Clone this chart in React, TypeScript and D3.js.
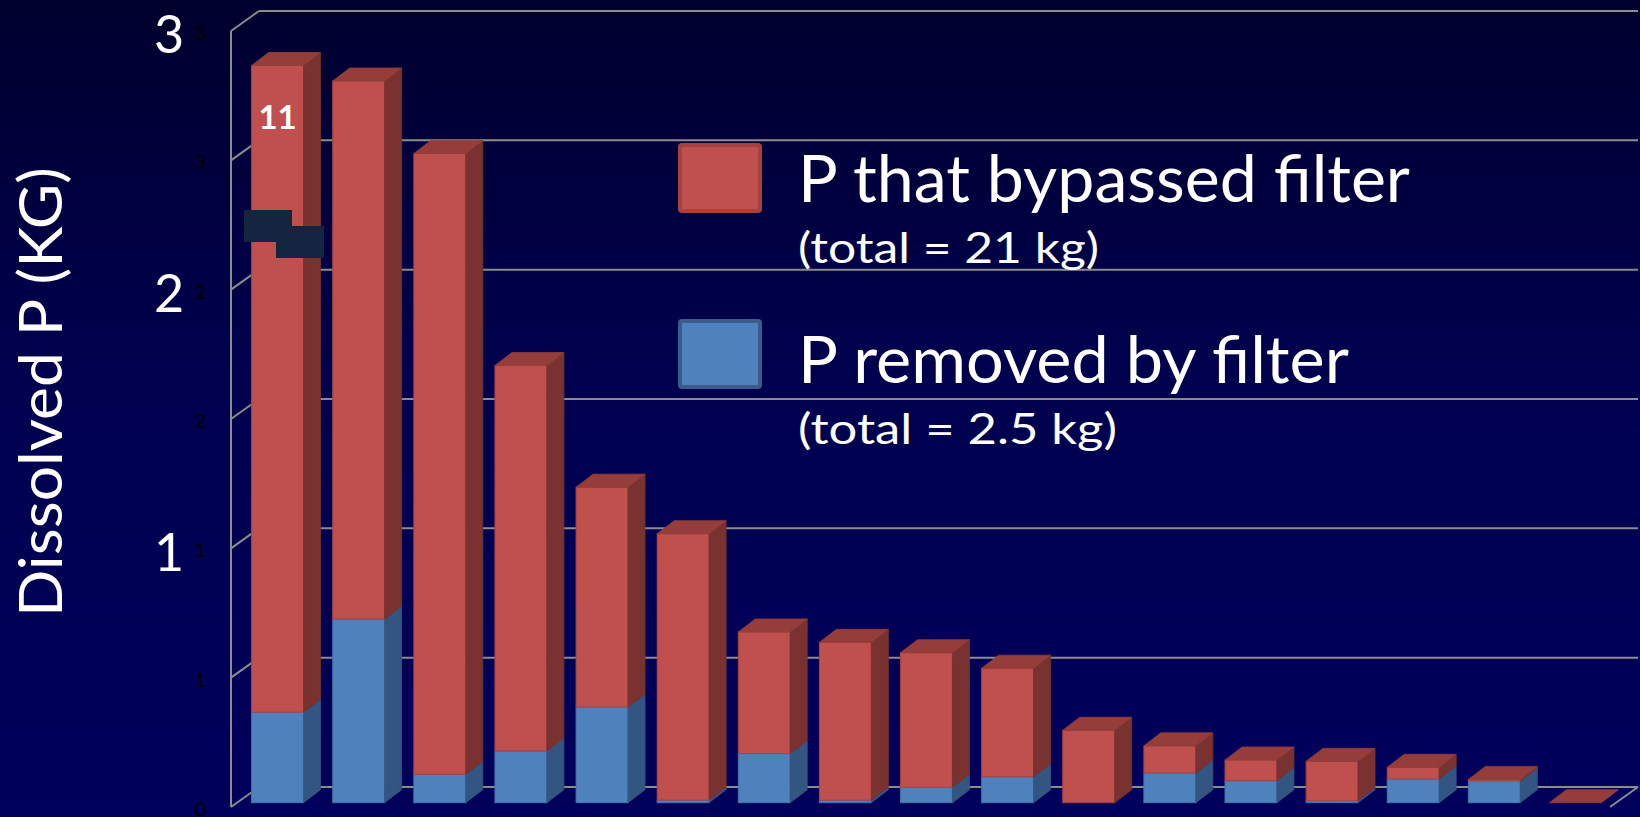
import React from "react";
import * as d3 from "d3";

// sites, sorted by total dissolved P
const categories = ["1", "2", "3", "4", "5", "6", "7", "8", "9", "10", "11", "12", "13", "14", "15", "16", "17"];
const bypassed = [2.5, 2.08, 2.4, 1.49, 0.85, 1.03, 0.47, 0.61, 0.52, 0.42, 0.28, 0.105, 0.08, 0.152, 0.045, 0.006, 0];
const removed = [0.35, 0.71, 0.11, 0.2, 0.37, 0.01, 0.19, 0.01, 0.06, 0.1, 0, 0.115, 0.085, 0.008, 0.092, 0.084, 0];

const tickValues = [0, 0.5, 1, 1.5, 2, 2.5, 3];
const bigLabels = [3, 2, 1];
const seriesKeys = ["removed", "bypassed"];
const legendTitles = ["P that bypassed filter", "P removed by filter"];
const legendTotals = ["(total = 21 kg)", "(total = 2.5 kg)"];

const W = 1640;
const H = 817;
const FONT = "Lato, 'Open Sans', sans-serif";

const colors: any = {
  bypassed: { front: "#C0504D", side: "#7A3230", top: "#943D3A", edge: "#A8433F" },
  removed: { front: "#4F81BD", side: "#335581", top: "#3E6696", edge: "#4673A8" },
};

export default function App() {
  const table = categories.map((c, i) => ({ cat: c, removed: removed[i], bypassed: bypassed[i] }));
  const stacked = d3.stack<any>().keys(seriesKeys)(table);

  const y = d3.scaleLinear().domain([0, 3]).range([807, 31]);
  const x = d3.scaleBand().domain(categories).range([231, 1610]).paddingInner(0.36).paddingOuter(0.18);
  const fmt = d3.format(".0f");

  // wall depth and bar placement inside it
  const wall = { dx: 28, dy: -20 };
  const off = { dx: 6, dy: -4.3 };
  const dep = { dx: 17, dy: -13 };
  const bw = x.bandwidth();
  const [x0r, x1r] = x.range();

  const pts = (p: number[][]) => p.map((d) => d.join(",")).join(" ");

  const bars: any[] = [];
  categories.forEach((c, i) => {
    const bx = (x(c) as number) + off.dx;
    stacked.forEach((s, si) => {
      const seg = s[i];
      const col = colors[s.key];
      const yb = y(seg[0]) + off.dy;
      const yt = y(seg[1]) + off.dy;
      const isTop = si === stacked.length - 1;
      if (yb - yt > 0.01) {
        bars.push(
          <g key={c + s.key}>
            <rect x={bx} y={yt} width={bw} height={yb - yt} fill={col.front} stroke={col.edge} strokeWidth={1} />
            <polygon
              points={pts([[bx + bw, yb], [bx + bw + dep.dx, yb + dep.dy], [bx + bw + dep.dx, yt + dep.dy], [bx + bw, yt]])}
              fill={col.side}
              stroke={col.side}
              strokeWidth={0.8}
            />
          </g>
        );
      }
      if (isTop) {
        bars.push(
          <polygon
            key={c + "top"}
            points={pts([[bx, yt], [bx + dep.dx, yt + dep.dy], [bx + bw + dep.dx, yt + dep.dy], [bx + bw, yt]])}
            fill={col.top}
            stroke={col.top}
            strokeWidth={0.8}
          />
        );
      }
    });
  });

  return (
    <svg width={W} height={H} style={{ position: "absolute", left: 0, top: 0, display: "block" }} fontFamily={FONT}>
      <defs>
        <linearGradient id="bg" x1="0" y1="0" x2="0" y2="1">
          <stop offset="0" stopColor="#00002E" />
          <stop offset="0.45" stopColor="#00004E" />
          <stop offset="1" stopColor="#00005C" />
        </linearGradient>
      </defs>
      <rect width={W} height={H} fill="url(#bg)" />

      {/* walls and gridlines */}
      <g stroke="#8C8C8C" strokeWidth={2} fill="none">
        {tickValues.map((t) => (
          <g key={t}>
            <line x1={x0r + wall.dx} x2={x1r + wall.dx} y1={y(t) + wall.dy} y2={y(t) + wall.dy} />
            <line x1={x0r} x2={x0r + wall.dx} y1={y(t)} y2={y(t) + wall.dy} />
          </g>
        ))}
        <line x1={x0r} x2={x0r} y1={y(3)} y2={y(0)} />
        <line x1={x1r} x2={x1r + wall.dx} y1={y(0)} y2={y(0) + wall.dy} />
      </g>

      {/* small tick labels */}
      <g fontSize={20} fill="#000" textAnchor="end">
        {tickValues.map((t) => (
          <text key={t} x={206} y={y(t) + 2} dy="0.35em">
            {fmt(t)}
          </text>
        ))}
      </g>

      {/* large value labels */}
      <g fontSize={52} fill="#fff" textAnchor="middle">
        {bigLabels.map((v) => (
          <text key={v} x={169} y={y(v) + 4} dy="0.35em">
            {v}
          </text>
        ))}
      </g>

      <text
        transform={`translate(62,${(167 + 617) / 2}) rotate(-90)`}
        textAnchor="middle"
        fontSize={60}
        fill="#fff"
        textLength={450}
        lengthAdjust="spacingAndGlyphs"
      >
        Dissolved P (KG)
      </text>

      {bars}

      {/* annotation on first bar */}
      <text x={(x(categories[0]) as number) + off.dx + bw / 2} y={y(2.62)} textAnchor="middle" fontSize={33} fontWeight="bold" fill="#fff">
        11
      </text>
      <rect x={244} y={210} width={48} height={32} fill="#13253F" />
      <rect x={276} y={226} width={48} height={32} fill="#13253F" />

      {/* legend */}
      {["bypassed", "removed"].map((k, i) => {
        const top = i === 0 ? 143 : 319;
        const base = i === 0 ? 202 : 383;
        return (
          <g key={k}>
            <rect x={680} y={top + 2} width={80} height={66} fill={colors[k].front} stroke={k === "bypassed" ? "#A8403D" : "#385D8A"} strokeWidth={4} rx={2} />
            <text x={798} y={base} fontSize={66} fill="#fff" textLength={i === 0 ? 612 : 551} lengthAdjust="spacingAndGlyphs">
              {legendTitles[i]}
            </text>
            <text x={798} y={base + 61} fontSize={42} fill="#fff" textLength={i === 0 ? 301 : 319} lengthAdjust="spacingAndGlyphs">
              {legendTotals[i]}
            </text>
          </g>
        );
      })}
    </svg>
  );
}
